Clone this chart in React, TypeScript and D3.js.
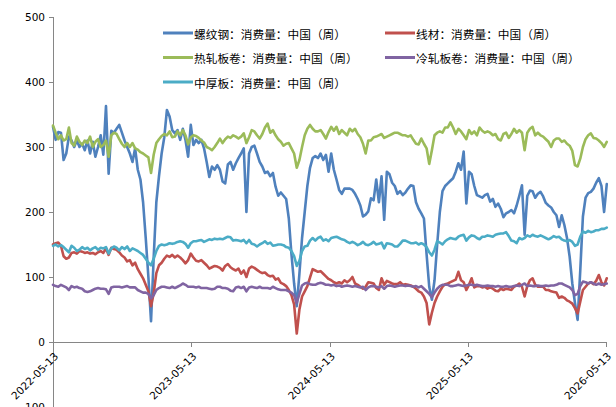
import React from "react";
import * as d3 from "d3";

// Weekly consumption series (万吨), first week 2022-05-13
const rebar = [
  331, 311, 323, 322, 280, 290, 316, 310, 300, 310,
  300, 305, 295, 310, 290, 308, 285, 300, 318, 288,
  363, 259, 325, 322, 328, 334, 322, 310, 300, 290,
  277, 298, 265, 250, 215, 160, 100, 32, 130, 215,
  255, 290, 315, 357, 347, 326, 321, 326, 311, 328,
  311, 285, 334, 303, 311, 306, 311, 298, 277, 254,
  270, 265, 272, 265, 247, 244, 273, 277, 265, 275,
  283, 290, 298, 200, 290, 300, 302, 290, 277, 270,
  260, 262, 255, 260, 239, 225, 230, 225, 220, 190,
  135, 90, 55, 105, 160, 200, 240, 268, 283, 286,
  283, 290, 280, 288, 262, 290, 265, 250, 234, 228,
  236, 236, 236, 234, 228, 220, 210, 193, 196, 201,
  221, 218, 250, 215, 255, 188, 262, 258, 245, 240,
  228, 232, 226, 230, 236, 241, 240, 215, 205, 198,
  190, 135, 85, 65, 95, 150, 200, 232, 240, 244,
  248, 252, 262, 275, 265, 293, 213, 262, 258, 240,
  226, 224, 222, 226, 228, 216, 220, 208, 213, 205,
  192, 198, 200, 203, 198, 210, 225, 241, 165, 225,
  233, 232, 222, 228, 231, 224, 214, 210, 207, 200,
  195, 177, 195, 180, 160, 131, 90, 60, 34, 110,
  193, 222, 229, 231, 236, 245, 252, 240, 200, 243,
];

const wireRod = [
  150, 152, 153, 148, 132, 128, 130, 137, 138, 136,
  140, 139, 137, 138, 136, 137, 135, 138, 140, 137,
  144, 134, 145, 143, 142, 138, 133, 130, 124, 126,
  118, 122, 112, 105, 98, 88, 78, 55, 75, 106,
  118, 122, 128, 133, 131, 134, 130, 133, 130, 126,
  121, 126, 136, 130, 125, 124, 126, 122, 118, 113,
  115, 117, 116, 114, 110, 117, 120, 115, 112, 110,
  113, 105, 110, 100, 113, 116, 114, 111, 108, 106,
  107, 103, 101, 102, 96, 98, 91, 89, 86, 80,
  72, 58, 13, 50, 70, 78, 86, 99, 112, 110,
  108, 109, 105, 101, 97, 95, 92, 90, 92, 90,
  95, 92, 95, 100, 90, 88, 85, 82, 85, 92,
  91, 90, 83, 80, 98, 88, 94, 92, 90, 89,
  89, 92, 88, 89, 88, 87, 85, 82, 78, 76,
  70, 60, 27, 45, 60, 70, 78, 85, 89, 90,
  92, 94, 96, 108, 95, 92, 80, 88, 98, 84,
  86, 86, 84, 85, 82, 84, 82, 79, 78, 82,
  80, 82, 81, 80, 85, 87, 90, 85, 70, 86,
  95, 98, 88, 85, 85, 85, 80, 80, 78, 77,
  76, 68, 70, 68, 64, 62, 59, 52, 44, 62,
  80, 85, 90, 92, 89, 94, 103, 92, 87, 98,
];

const hotRolled = [
  333, 322, 312, 318, 310, 312, 330, 306, 302, 316,
  308, 303, 310, 306, 316, 300, 308, 312, 300, 303,
  310, 285, 318, 322, 320, 312, 305, 300, 306, 300,
  306, 298, 296, 292, 290, 287, 284, 260, 288, 306,
  312, 317, 320, 318, 324, 315, 316, 324, 318, 326,
  318, 304, 315, 318, 317, 314, 310, 307, 300, 298,
  295, 300, 306, 313, 306, 312, 316, 314, 318, 316,
  313, 316, 321, 306, 315, 326, 324, 318, 313, 320,
  330, 336, 322, 326, 318, 312, 308, 302, 305, 306,
  298, 290, 268, 280, 300, 318, 328, 334, 328, 324,
  324, 326, 320, 313, 323, 331, 325, 331, 320, 326,
  322, 318, 328, 324, 328, 320, 315, 305, 290, 310,
  310, 315, 316, 318, 320, 314, 316, 318, 320, 322,
  322, 320, 318, 318, 316, 318, 311, 305, 304, 313,
  305, 298, 274, 295, 318, 322, 324, 322, 330, 330,
  338, 330, 320, 328, 324, 318, 312, 326, 320, 324,
  318, 330, 325, 322, 324, 322, 318, 320, 312, 310,
  320, 322, 314, 320, 328, 322, 326, 322, 295, 322,
  328, 331, 318, 322, 318, 316, 312, 308, 300, 310,
  313, 313, 308, 310, 305, 302, 294, 272, 270, 282,
  300, 312, 318, 321, 314, 313, 310, 306, 300, 308,
];

const coldRolled = [
  88, 86, 85, 88, 86, 84, 80, 86, 84, 85,
  83, 82, 78, 77, 78, 80, 82, 83, 82, 82,
  81, 74, 84, 85, 85, 85, 84, 85, 86, 84,
  84, 84, 80, 78, 76, 76, 74, 67, 72, 80,
  83, 85, 85, 84, 83, 85, 83, 85, 87, 90,
  88, 85, 85, 85, 84, 85, 83, 83, 83, 82,
  81, 82, 85, 85, 83, 83, 82, 79, 78, 84,
  85, 83, 85, 78, 84, 85, 84, 83, 85, 83,
  83, 83, 82, 85, 83, 81, 80, 80, 80, 78,
  76, 72, 60, 74, 87, 90, 91, 89, 88, 88,
  90, 91, 90, 88, 88, 87, 88, 86, 87, 85,
  86, 87, 86, 85, 86, 85, 84, 85, 80, 84,
  86, 86, 85, 84, 86, 82, 86, 87, 86, 85,
  86, 87, 87, 86, 87, 86, 85, 86, 84, 86,
  82, 78, 74, 69, 76, 82, 86, 88, 88, 88,
  86, 86, 87, 88, 87, 86, 87, 88, 88, 87,
  88, 87, 86, 86, 87, 86, 86, 85, 86, 85,
  85, 86, 85, 85, 86, 87, 86, 88, 90, 86,
  87, 86, 86, 87, 86, 86, 87, 86, 87, 87,
  88, 90, 90, 88, 86, 84, 80, 72, 74, 86,
  93, 92, 90, 92, 90, 88, 90, 88, 89, 90,
];

const plate = [
  148, 150, 147, 149, 146, 142, 138, 148, 145, 140,
  142, 146, 143, 145, 141, 144, 146, 142, 145, 144,
  146, 136, 144, 147, 145, 141, 146, 143, 147, 140,
  144, 142, 140, 137, 134, 128, 122, 118, 128, 140,
  148, 150, 149, 150, 152, 151, 152, 154, 155, 154,
  151, 145, 152, 155, 155, 156, 157, 154, 156, 158,
  157, 159, 158, 159, 158, 160, 162, 161, 156, 157,
  156, 155, 157, 152, 157, 151, 150, 147, 150, 152,
  155, 151, 153, 148, 149, 150, 150, 149, 146, 145,
  140, 132, 117, 125, 140, 147, 148, 156, 160, 156,
  160, 162, 156, 158, 155, 160, 161, 162, 160, 158,
  157, 154, 152, 154, 152, 149, 151, 154, 150, 149,
  151, 154, 150, 151, 153, 144, 152, 151, 150, 147,
  147, 151, 156, 156, 154, 152, 152, 153, 150, 152,
  150, 146, 138, 133, 142, 155, 153, 150, 155, 158,
  160, 159, 158, 162, 164, 165, 156, 161, 164, 163,
  160, 158, 162, 162, 164, 163, 162, 165, 166, 167,
  167, 169, 163, 156, 155, 152, 160, 158, 160, 164,
  162, 165, 163, 162, 164, 162, 160, 158, 160, 163,
  161, 162, 158, 156, 155, 157, 154, 148, 150, 162,
  170, 168, 171, 169, 170, 172, 172, 174, 174, 176,
];

const seriesNames = [
  "螺纹钢：消费量：中国（周）",
  "线材：消费量：中国（周）",
  "热轧板卷：消费量：中国（周）",
  "冷轧板卷：消费量：中国（周）",
  "中厚板：消费量：中国（周）",
];
const seriesColors = ["#4F81BD", "#C0504D", "#9BBB59", "#8064A2", "#4BACC6"];
const seriesValues = [rebar, wireRod, hotRolled, coldRolled, plate];

const yTicks = [-100, 0, 100, 200, 300, 400, 500];
const xTickLabels = ["2022-05-13", "2023-05-13", "2024-05-13", "2025-05-13", "2026-05-13"];

const W = 616;
const H = 407;
const axisColor = "#868686";
const labelFont = "'DejaVu Sans', Verdana, sans-serif";
const cjkFont = "'Noto Sans CJK SC', 'Noto Sans', sans-serif";

const parseDay = d3.utcParse("%Y-%m-%d");
const weekDates = rebar.map((_, i) => d3.utcDay.offset(parseDay("2022-05-13")!, 7 * i));

export default function App() {
  const x = d3
    .scaleUtc()
    .domain([parseDay(xTickLabels[0])!, parseDay(xTickLabels[xTickLabels.length - 1])!])
    .range([53, 606]);
  const y = d3.scaleLinear().domain([-100, 500]).range([407, 17]);

  const line = d3
    .line<number>()
    .x((_, i) => x(weekDates[i]))
    .y((v) => y(v));

  const legendCols = [163, 385];
  const legendRows = [33, 57.5, 82];

  return (
    <svg
      width={W}
      height={H}
      style={{ position: "absolute", left: 0, top: 0, background: "#fff" }}
    >
      <rect x={0} y={0} width={W} height={H} fill="#fff" />

      {/* value axis */}
      <line x1={53.5} x2={53.5} y1={y(500)} y2={H} stroke={axisColor} strokeWidth={1} />
      {yTicks.map((t) => (
        <g key={t}>
          <line x1={49} x2={53.5} y1={Math.round(y(t)) + 0.5} y2={Math.round(y(t)) + 0.5} stroke={axisColor} />
          <text
            x={45}
            y={y(t)}
            textAnchor="end"
            dominantBaseline="central"
            fontFamily={labelFont}
            fontSize={10.5}
            fill="#000"
          >
            {t}
          </text>
        </g>
      ))}

      {/* date axis at zero */}
      <line x1={53} x2={607} y1={Math.round(y(0)) + 0.5} y2={Math.round(y(0)) + 0.5} stroke={axisColor} />
      {xTickLabels.map((lab) => {
        const tx = x(parseDay(lab)!);
        const ty = y(0);
        return (
          <g key={lab}>
            <line x1={Math.round(tx) + 0.5} x2={Math.round(tx) + 0.5} y1={ty} y2={ty + 5} stroke={axisColor} />
            <text
              transform={`translate(${tx + 6},${ty + 15}) rotate(-45)`}
              textAnchor="end"
              fontFamily={labelFont}
              fontSize={10.5}
              fill="#000"
            >
              {lab}
            </text>
          </g>
        );
      })}

      {/* series lines, drawn in legend order */}
      {seriesValues.map((vals, k) => (
        <path
          key={seriesNames[k]}
          d={line(vals) || ""}
          fill="none"
          stroke={seriesColors[k]}
          strokeWidth={2.6}
          strokeLinejoin="round"
          strokeLinecap="round"
        />
      ))}

      {/* legend */}
      {seriesNames.map((name, k) => {
        const lx = legendCols[k % 2];
        const ly = legendRows[Math.floor(k / 2)];
        return (
          <g key={name}>
            <line x1={lx} x2={lx + 30} y1={ly} y2={ly} stroke={seriesColors[k]} strokeWidth={3} />
            <text
              x={lx + 31}
              y={ly}
              dominantBaseline="central"
              fontFamily={cjkFont}
              fontSize={11.7}
              fill="#000"
            >
              {name}
            </text>
          </g>
        );
      })}
    </svg>
  );
}
